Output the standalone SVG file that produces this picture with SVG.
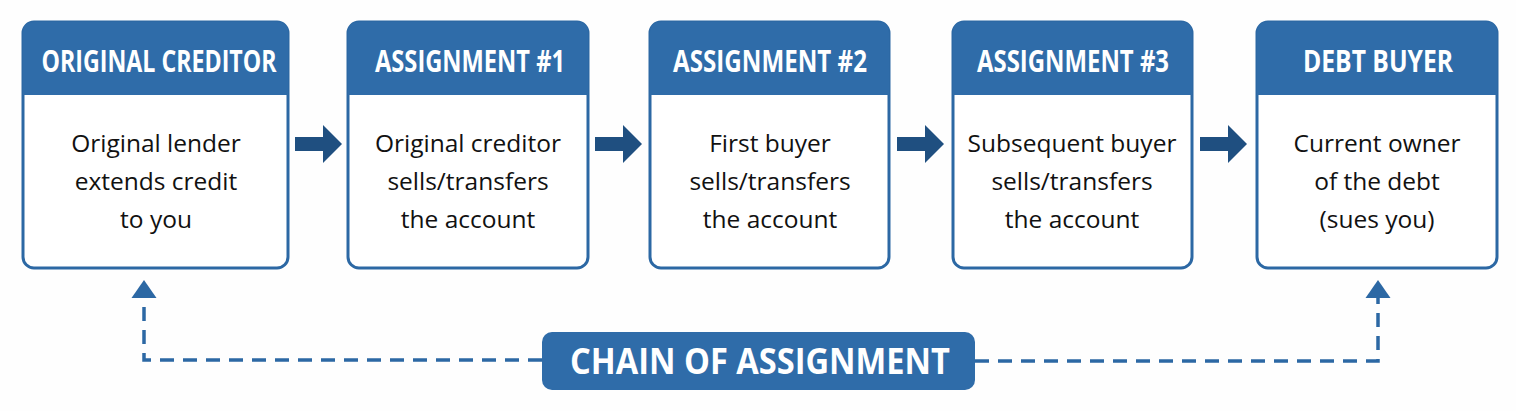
<svg xmlns="http://www.w3.org/2000/svg" width="1516" height="411" viewBox="0 0 1516 411">
<defs>
<style>
.box{fill:#ffffff;stroke:#2c68a4;stroke-width:3}
.hdr{fill:#2f6ca9}
.ht{font-family:"Open Sans","Liberation Sans",sans-serif;font-weight:700;font-size:30px;fill:#ffffff;text-anchor:middle}
.bt{font-family:"Open Sans","Noto Sans","Liberation Sans",sans-serif;font-size:24.5px;fill:#111111;text-anchor:middle}
.arr{fill:#1f4f80}
.dash{fill:none;stroke:#2c68a4;stroke-width:3.5;stroke-dasharray:14 9}
.tip{fill:#2c68a4}
.pill{fill:#2f6ca9}
.pt{font-family:"Open Sans","Liberation Sans",sans-serif;font-weight:700;font-size:36px;fill:#ffffff;text-anchor:middle}
</style>
</defs>
<rect width="1516" height="411" fill="#fefefe"/>

<g id="node-original-creditor">
<rect class="box" x="23" y="22" width="265" height="246" rx="11"/>
<path class="hdr" d="M23 95 V33 Q23 22 34 22 H277 Q288 22 288 33 V95 Z"/>
<text class="ht" x="159" y="72" textLength="235" lengthAdjust="spacingAndGlyphs">ORIGINAL CREDITOR</text>
<text class="bt" x="156" y="152">Original lender</text>
<text class="bt" x="156" y="190">extends credit</text>
<text class="bt" x="156" y="228">to you</text>
</g>

<g id="node-assignment-1">
<rect class="box" x="348" y="22" width="240" height="246" rx="11"/>
<path class="hdr" d="M348 95 V33 Q348 22 359 22 H577 Q588 22 588 33 V95 Z"/>
<text class="ht" x="470" y="72" textLength="190" lengthAdjust="spacingAndGlyphs">ASSIGNMENT #1</text>
<text class="bt" x="468" y="152">Original creditor</text>
<text class="bt" x="468" y="190">sells/transfers</text>
<text class="bt" x="468" y="228">the account</text>
</g>

<g id="node-assignment-2">
<rect class="box" x="650" y="22" width="239" height="246" rx="11"/>
<path class="hdr" d="M650 95 V33 Q650 22 661 22 H878 Q889 22 889 33 V95 Z"/>
<text class="ht" x="770" y="72" textLength="194" lengthAdjust="spacingAndGlyphs">ASSIGNMENT #2</text>
<text class="bt" x="770" y="152">First buyer</text>
<text class="bt" x="770" y="190">sells/transfers</text>
<text class="bt" x="770" y="228">the account</text>
</g>

<g id="node-assignment-3">
<rect class="box" x="953" y="22" width="239" height="246" rx="11"/>
<path class="hdr" d="M953 95 V33 Q953 22 964 22 H1181 Q1192 22 1192 33 V95 Z"/>
<text class="ht" x="1073" y="72" textLength="192" lengthAdjust="spacingAndGlyphs">ASSIGNMENT #3</text>
<text class="bt" x="1072" y="152">Subsequent buyer</text>
<text class="bt" x="1072" y="190">sells/transfers</text>
<text class="bt" x="1072" y="228">the account</text>
</g>

<g id="node-debt-buyer">
<rect class="box" x="1257" y="22" width="240" height="246" rx="11"/>
<path class="hdr" d="M1257 95 V33 Q1257 22 1268 22 H1486 Q1497 22 1497 33 V95 Z"/>
<text class="ht" x="1378" y="72" textLength="150" lengthAdjust="spacingAndGlyphs">DEBT BUYER</text>
<text class="bt" x="1377" y="152">Current owner</text>
<text class="bt" x="1377" y="190">of the debt</text>
<text class="bt" x="1377" y="228">(sues you)</text>
</g>

<g id="connectors">
<path class="arr" d="M295 137 H323 V125 L342 144 L323 163 V151 H295 Z"/>
<path class="arr" d="M595 137 H623 V125 L642 144 L623 163 V151 H595 Z"/>
<path class="arr" d="M897 137 H925 V125 L944 144 L925 163 V151 H897 Z"/>
<path class="arr" d="M1200 137 H1228 V125 L1247 144 L1228 163 V151 H1200 Z"/>
<path class="dash" d="M542 360 H144 V298"/>
<polygon class="tip" points="144,280 156.5,298 131.5,298"/>
<path class="dash" d="M975 361 H1378 V298"/>
<polygon class="tip" points="1378,280 1390.5,298 1365.5,298"/>
</g>

<g id="node-chain-of-assignment">
<rect class="pill" x="542" y="332" width="433" height="58" rx="10"/>
<text class="pt" x="760" y="374" textLength="380" lengthAdjust="spacingAndGlyphs">CHAIN OF ASSIGNMENT</text>
</g>
</svg>
